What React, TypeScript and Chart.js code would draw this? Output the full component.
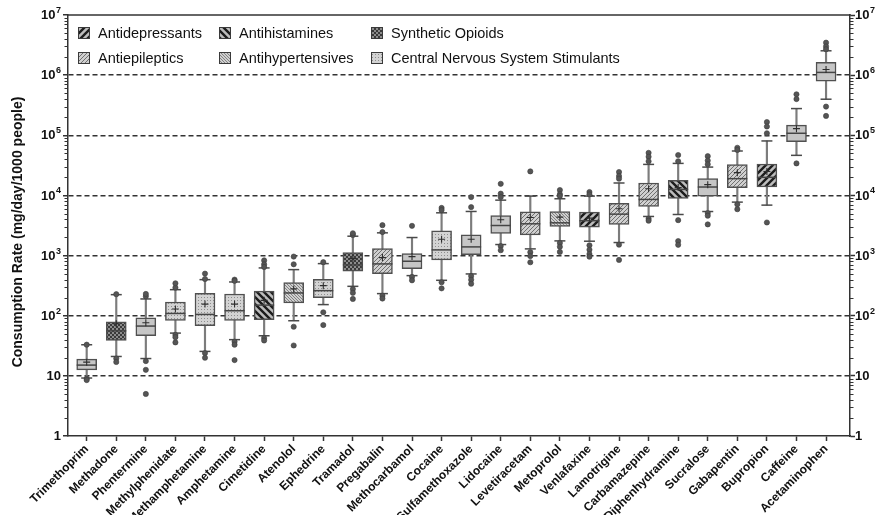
import React, { useEffect, useRef } from 'react';
import { Chart, registerables } from 'chart.js';

Chart.register(...registerables);

// ---------------- DATA ----------------
const drugs = [
  'Trimethoprim', 'Methadone', 'Phentermine', 'Methylphenidate', 'Methamphetamine', 'Amphetamine',
  'Cimetidine', 'Atenolol', 'Ephedrine', 'Tramadol', 'Pregabalin', 'Methocarbamol', 'Cocaine',
  'Sulfamethoxazole', 'Lidocaine', 'Levetiracetam', 'Metoprolol', 'Venlafaxine', 'Lamotrigine',
  'Carbamazepine', 'Diphenhydramine', 'Sucralose', 'Gabapentin', 'Bupropion', 'Caffeine', 'Acetaminophen',
];

// 0 Antidepressants, 1 Antihistamines, 2 Synthetic Opioids, 3 Antiepileptics,
// 4 Antihypertensives, 5 CNS Stimulants, 6 other (plain)
const drugGroup = [6, 2, 6, 5, 5, 5, 1, 4, 5, 2, 3, 6, 5, 6, 6, 3, 4, 0, 3, 3, 1, 6, 3, 0, 6, 6];

const legendNames = [
  'Antidepressants', 'Antihistamines', 'Synthetic Opioids',
  'Antiepileptics', 'Antihypertensives', 'Central Nervous System Stimulants',
];

const yTitle = 'Consumption Rate (mg/day/1000 people)';

const q1 = [12.6, 38.7, 46.4, 83.5, 68, 83.5, 86, 163, 200, 548, 501, 607, 847, 1039, 2327, 2210, 3043, 2963, 3289, 6550, 8900, 9750, 13400, 13800, 78400, 794000];
const q3 = [19, 79, 92.6, 169, 235, 230, 258, 355, 403, 1122, 1309, 1080, 2578, 2210, 4642, 5346, 5412, 5272, 7356, 16100, 17800, 19000, 32500, 33300, 148000, 1630000];
const median = [15.1, 56, 67.3, 109, 105, 121, 150, 239, 261, 699, 727, 805, 1243, 1394, 3162, 3373, 3502, 3800, 4886, 8580, 12600, 13800, 19000, 20000, 108000, 1110000];
const mean = [16.9, 73.6, 76.4, 129, 156, 156, 180, 279, 316, 891, 926, 962, 1871, 1871, 3930, 4300, 4350, 4200, 5995, 12900, 13500, 15100, 23900, 25000, 129000, 1240000];
const whiskerLow = [9.2, 21, 19.4, 51.4, 25.5, 40, 46.4, 82.5, 153, 308, 233, 464, 388, 495, 1525, 1292, 1755, 1733, 1647, 4470, 4820, 5400, 7740, 6900, 46400, 398000];
const whiskerHigh = [32.9, 224, 190, 271, 398, 364, 623, 584, 735, 2099, 2388, 1995, 5140, 5412, 8350, 9750, 8800, 9750, 16100, 32800, 34100, 29600, 54800, 80500, 278000, 2540000];
const outliers: number[][] = [
  [33, 9, 8.5],
  [228, 19.4, 17],
  [210, 230, 17.6, 12.6, 5.0],
  [293, 346, 48, 44, 36],
  [501, 408, 23.9, 20],
  [398, 380, 37, 33, 18.3],
  [832, 716, 646, 42.5, 38.7],
  [716, 962, 65.6, 32],
  [776, 114, 70],
  [2200, 2350, 277, 240, 190],
  [3206, 2460, 215, 193],
  [3121, 441, 388],
  [6200, 5700, 360, 285],
  [6391, 9372, 456, 396, 340],
  [10700, 9400, 15600, 1440, 1227],
  [25100, 1140, 980, 774],
  [12300, 10500, 9800, 1620, 1400, 1150],
  [11400, 10400, 1480, 1250, 1060, 960],
  [24500, 21000, 19000, 1520, 847],
  [51000, 44000, 37000, 4100, 3800],
  [47000, 37000, 3880, 1740, 1510],
  [45000, 38000, 33000, 5100, 4600, 3300],
  [62000, 57000, 7100, 5900],
  [166000, 140000, 108000, 3550],
  [480000, 400000, 34100],
  [3470000, 3000000, 2700000, 300000, 210000],
];

const yTickValues: number[] = [];
for (let e = 0; e <= 7; e++) {
  for (let m = 1; m <= 9; m++) {
    const v = m * Math.pow(10, e);
    if (v <= 1e7) yTickValues.push(v);
  }
}

// ---------------- HELPERS ----------------
const FONT = '"Liberation Sans", Arial, Helvetica, sans-serif';

function isDecade(v: number | undefined): boolean {
  if (v === undefined || v === null || !(v > 0)) return false;
  const l = Math.log10(v);
  return Math.abs(l - Math.round(l)) < 1e-9;
}

function makePattern(size: number, draw: (c: CanvasRenderingContext2D, s: number) => void): CanvasPattern {
  const cv = document.createElement('canvas');
  cv.width = size;
  cv.height = size;
  const c = cv.getContext('2d')!;
  draw(c, size);
  return c.createPattern(cv, 'repeat')!;
}
function diagPattern(size: number, bg: string, fg: string, lw: number, forward: boolean) {
  return makePattern(size, (c, s) => {
    c.fillStyle = bg;
    c.fillRect(0, 0, s, s);
    c.strokeStyle = fg;
    c.lineWidth = lw;
    c.beginPath();
    if (forward) {
      c.moveTo(0, s); c.lineTo(s, 0);
      c.moveTo(-s, s); c.lineTo(s, -s);
      c.moveTo(0, 2 * s); c.lineTo(2 * s, 0);
    } else {
      c.moveTo(0, 0); c.lineTo(s, s);
      c.moveTo(-s, 0); c.lineTo(s, 2 * s);
      c.moveTo(0, -s); c.lineTo(2 * s, s);
    }
    c.stroke();
  });
}
function makeFills(): (string | CanvasPattern)[] {
  return [
    diagPattern(7, '#bdbdbd', '#1c1c1c', 2.4, true),
    diagPattern(7, '#bdbdbd', '#1c1c1c', 2.4, false),
    makePattern(4, (c, s) => {
      c.fillStyle = '#3a3a3a';
      c.fillRect(0, 0, s, s);
      c.fillStyle = '#8c8c8c';
      c.fillRect(0, 0, 2, 2);
      c.fillRect(2, 2, 2, 2);
    }),
    diagPattern(4, '#d0d0d0', '#707070', 1, true),
    diagPattern(3, '#d0d0d0', '#7a7a7a', 0.9, false),
    makePattern(3, (c, s) => {
      c.fillStyle = '#d3d3d3';
      c.fillRect(0, 0, s, s);
      c.fillStyle = '#8e8e8e';
      c.fillRect(0, 0, 1, 1);
    }),
    '#c6c6c6',
  ];
}

export default function App() {
  const ref = useRef<HTMLCanvasElement>(null);

  useEffect(() => {
    const canvas = ref.current;
    if (!canvas) return;
    const fills = makeFills();

    const whiskerDataset = {
      type: 'bar',
      label: 'whiskers',
      data: drugs.map((_, i) => ({ x: i, y: [whiskerLow[i], whiskerHigh[i]] })),
      backgroundColor: '#7c7c7c',
      borderWidth: 0,
      barThickness: 1.5,
      grouped: false,
      order: 10,
      xAxisID: 'x',
      yAxisID: 'y',
    };

    const boxDatasets = [0, 1, 2, 3, 4, 5, 6].map((g) => ({
      type: 'bar',
      label: g < 6 ? legendNames[g] : 'Other',
      data: drugs
        .map((_, i) => ({ x: i, y: [q1[i], q3[i]] }))
        .filter((_, i) => drugGroup[i] === g),
      backgroundColor: fills[g],
      borderColor: '#505050',
      borderWidth: 1.5,
      borderSkipped: false,
      barThickness: 20,
      grouped: false,
      order: 5,
      xAxisID: 'x',
      yAxisID: 'y',
    }));

    const medianDataset = {
      type: 'scatter',
      label: 'median',
      data: drugs.map((_, i) => ({ x: i, y: median[i] })),
      pointStyle: 'line',
      pointRadius: 10,
      pointBorderColor: '#454545',
      pointBorderWidth: 1.5,
      showLine: false,
      order: 3,
      xAxisID: 'x',
      yAxisID: 'y',
    };
    const capDataset = {
      type: 'scatter',
      label: 'caps',
      data: drugs.flatMap((_, i) => [{ x: i, y: whiskerLow[i] }, { x: i, y: whiskerHigh[i] }]),
      pointStyle: 'line',
      pointRadius: 5.5,
      pointBorderColor: '#4a4a4a',
      pointBorderWidth: 1.5,
      showLine: false,
      order: 3,
      xAxisID: 'x',
      yAxisID: 'y',
    };
    const meanDataset = {
      type: 'scatter',
      label: 'mean',
      data: drugs.map((_, i) => ({ x: i, y: mean[i] })),
      pointStyle: 'cross',
      pointRadius: 3.5,
      pointBorderColor: '#2e2e2e',
      pointBorderWidth: 1.1,
      showLine: false,
      order: 2,
      xAxisID: 'x',
      yAxisID: 'y',
    };
    const outlierDataset = {
      type: 'scatter',
      label: 'outliers',
      data: outliers.flatMap((arr, i) => arr.map((v) => ({ x: i, y: v }))),
      pointStyle: 'circle',
      pointRadius: 2.6,
      pointBackgroundColor: '#555555',
      pointBorderColor: '#3c3c3c',
      pointBorderWidth: 0.6,
      showLine: false,
      order: 1,
      xAxisID: 'x',
      yAxisID: 'y',
    };

    const yTickColor = (ctx: any) => (isDecade(ctx.tick?.value) ? '#333333' : 'rgba(0,0,0,0)');
    const gridColor = (ctx: any) => {
      const v = ctx.tick?.value;
      if (!isDecade(v)) return 'rgba(0,0,0,0)';
      if (v <= 1 || v >= 1e7) return 'rgba(0,0,0,0)';
      return '#333333';
    };
    const buildYTicks = (s: any) => {
      s.ticks = yTickValues.map((v) => ({ value: v, major: isDecade(v) }));
    };

    const drawPowerLabel = (ctx: CanvasRenderingContext2D, v: number, x: number, y: number, alignRight: boolean) => {
      const e = Math.round(Math.log10(v));
      const base = e === 0 ? '1' : '10';
      const exp = e >= 2 ? String(e) : '';
      ctx.font = `bold 13px ${FONT}`;
      const wb = ctx.measureText(base).width;
      ctx.font = `bold 9px ${FONT}`;
      const we = exp ? ctx.measureText(exp).width + 0.5 : 0;
      const x0 = alignRight ? x - wb - we : x;
      ctx.textAlign = 'left';
      ctx.textBaseline = 'middle';
      ctx.fillStyle = '#111111';
      ctx.font = `bold 13px ${FONT}`;
      ctx.fillText(base, x0, y + 0.5);
      if (exp) {
        ctx.font = `bold 9px ${FONT}`;
        ctx.fillText(exp, x0 + wb + 0.5, y - 4.5);
      }
    };

    const extrasPlugin = {
      id: 'boxExtras',
      afterDraw(chart: any) {
        const { ctx, chartArea } = chart;
        ctx.save();
        // top frame line
        ctx.strokeStyle = '#333333';
        ctx.lineWidth = 1.5;
        ctx.beginPath();
        ctx.moveTo(chartArea.left - 0.75, chartArea.top);
        ctx.lineTo(chartArea.right + 0.75, chartArea.top);
        ctx.stroke();
        // minor ticks on both log axes
        ctx.lineWidth = 1;
        ctx.beginPath();
        for (const id of ['y', 'y2']) {
          const s = chart.scales[id];
          const x0 = id === 'y' ? chartArea.left : chartArea.right;
          const dir = id === 'y' ? -1 : 1;
          for (const t of s.ticks) {
            if (isDecade(t.value)) continue;
            const py = Math.round(s.getPixelForValue(t.value)) + 0.5;
            ctx.moveTo(x0, py);
            ctx.lineTo(x0 + dir * 3.5, py);
          }
        }
        ctx.stroke();
        // decade labels (10 with superscript exponent) on both axes
        for (const id of ['y', 'y2']) {
          const s = chart.scales[id];
          for (const t of s.ticks) {
            if (!isDecade(t.value)) continue;
            const py = s.getPixelForValue(t.value);
            if (id === 'y') drawPowerLabel(ctx, t.value, chartArea.left - 7, py, true);
            else drawPowerLabel(ctx, t.value, chartArea.right + 5, py, false);
          }
        }
        // y axis title
        ctx.save();
        ctx.translate(18, 232);
        ctx.rotate(-Math.PI / 2);
        ctx.font = `bold 14px ${FONT}`;
        ctx.fillStyle = '#111111';
        ctx.textAlign = 'center';
        ctx.textBaseline = 'middle';
        ctx.fillText(yTitle, 0, 0);
        ctx.restore();
        // legend
        const colSwatch = [78, 219, 371];
        const colText = [98, 239, 391];
        const rowY = [33, 58];
        ctx.font = `14.5px ${FONT}`;
        ctx.textBaseline = 'middle';
        ctx.textAlign = 'left';
        legendNames.forEach((name, k) => {
          const r = Math.floor(k / 3);
          const c = k % 3;
          const sx = colSwatch[c];
          const sy = rowY[r] - 6;
          ctx.fillStyle = fills[k];
          ctx.fillRect(sx, sy, 12, 12);
          ctx.strokeStyle = '#3a3a3a';
          ctx.lineWidth = 1;
          ctx.strokeRect(sx + 0.5, sy + 0.5, 11, 11);
          ctx.fillStyle = '#111111';
          ctx.fillText(name, colText[c], rowY[r] + 0.5);
        });
        ctx.restore();
      },
    };

    const chart = new Chart(canvas, {
      type: 'bar',
      data: {
        datasets: [whiskerDataset, ...boxDatasets, medianDataset, capDataset, meanDataset, outlierDataset] as any,
      },
      options: {
        responsive: false,
        maintainAspectRatio: false,
        devicePixelRatio: 1,
        animation: false,
        events: [],
        layout: { padding: { top: 15, left: 0, right: 0, bottom: 0 } },
        plugins: {
          legend: { display: false },
          tooltip: { enabled: false },
        },
        scales: {
          x: {
            type: 'linear',
            min: -0.632,
            max: 25.81,
            offset: false,
            afterBuildTicks: (s: any) => {
              s.ticks = drugs.map((_, i) => ({ value: i }));
            },
            afterFit: (s: any) => {
              s.height = 79;
            },
            ticks: {
              callback: (v: any) => drugs[v] ?? '',
              autoSkip: false,
              maxRotation: 45,
              minRotation: 45,
              padding: 1,
              color: '#111111',
              font: { family: FONT, size: 12, weight: 'bold' },
            },
            grid: {
              offset: false,
              drawOnChartArea: false,
              drawTicks: true,
              tickLength: 5,
              tickColor: '#333333',
              tickWidth: 1.5,
            },
            border: { display: true, color: '#333333', width: 1.5 },
          },
          y: {
            type: 'logarithmic',
            position: 'left',
            min: 1,
            max: 1e7,
            afterBuildTicks: buildYTicks,
            afterFit: (s: any) => {
              s.width = 68;
            },
            ticks: {
              display: false,
              autoSkip: false,
            },
            grid: {
              color: gridColor,
              lineWidth: 1.5,
              drawTicks: true,
              tickLength: 5,
              tickColor: yTickColor,
              tickWidth: 1.5,
            },
            border: { display: true, color: '#333333', width: 1.5, dash: [5, 3] },
            title: { display: false },
          },
          y2: {
            type: 'logarithmic',
            position: 'right',
            min: 1,
            max: 1e7,
            afterBuildTicks: buildYTicks,
            afterFit: (s: any) => {
              s.width = 25;
            },
            ticks: {
              display: false,
              autoSkip: false,
            },
            grid: {
              drawOnChartArea: false,
              drawTicks: true,
              tickLength: 5,
              tickColor: yTickColor,
              tickWidth: 1.5,
            },
            border: { display: true, color: '#333333', width: 1.5 },
          },
        },
      } as any,
      plugins: [extrasPlugin],
    });

    return () => chart.destroy();
  }, []);

  return (
    <div style={{ position: 'absolute', left: 0, top: 0, width: 875, height: 515, background: '#ffffff' }}>
      <canvas ref={ref} width={875} height={515} style={{ display: 'block', width: 875, height: 515 }} />
    </div>
  );
}
